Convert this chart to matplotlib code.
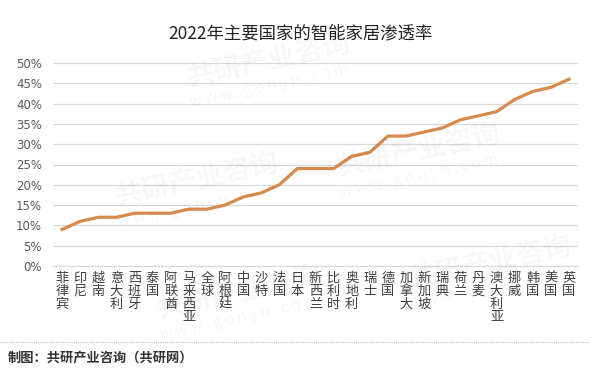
import matplotlib.pyplot as plt
from matplotlib.ticker import PercentFormatter

plt.rcParams['font.family'] = ['Noto Sans CJK SC', 'DejaVu Sans']

countries = ['菲律宾', '印尼', '越南', '意大利', '西班牙', '泰国', '阿联酋', '马来西亚',
             '全球', '阿根廷', '中国', '沙特', '法国', '日本', '新西兰', '比利时',
             '奥地利', '瑞士', '德国', '加拿大', '新加坡', '瑞典', '荷兰', '丹麦',
             '澳大利亚', '挪威', '韩国', '美国', '英国']
penetration = [9, 11, 12, 12, 13, 13, 13, 14, 14, 15, 17, 18, 20, 24, 24, 24,
               27, 28, 32, 32, 33, 34, 36, 37, 38, 41, 43, 44, 46]
y_ticks = [0, 5, 10, 15, 20, 25, 30, 35, 40, 45, 50]

fig = plt.figure(figsize=(5.98, 3.74), dpi=100)
ax = fig.add_axes([53 / 598, 1 - 266 / 374, 525 / 598, 203 / 374])

# faint watermarks
for wx, wy in [(0.45, 0.84), (0.33, 0.52), (0.70, 0.60), (0.40, 0.22), (0.82, 0.30)]:
    fig.text(wx, wy, '共研产业咨询', fontsize=20, fontweight='bold', color='#000000',
             alpha=0.035, rotation=12, ha='center', va='center')
    fig.text(wx, wy - 0.07, 'w w w . g o n y n . c o m', fontsize=11, color='#000000',
             alpha=0.035, rotation=12, ha='center', va='center')

x = list(range(len(countries)))
ax.plot(x, penetration, color='#D68A4C', linewidth=2.3, solid_joinstyle='round', zorder=3)

ax.set_xlim(-0.5, len(countries) - 0.5)
ax.set_ylim(0, 50)
ax.set_yticks(y_ticks)
ax.yaxis.set_major_formatter(PercentFormatter(decimals=0))
ax.grid(axis='y', color='#D9D9D9', linewidth=0.9)
ax.set_axisbelow(True)
for s in ['top', 'right', 'left']:
    ax.spines[s].set_visible(False)
ax.spines['bottom'].set_color('#D9D9D9')
ax.tick_params(axis='y', length=0, pad=8, labelsize=8.5, labelcolor='#595959')
for lab in ax.get_yticklabels():
    lab.set_family('DejaVu Sans')

ax.set_xticks(x)
ax.set_xticklabels(['\n'.join(c) for c in countries], fontsize=9.5, color='#404040',
                   linespacing=1.0, va='top')
ax.tick_params(axis='x', length=0, pad=4)

fig.text(0.502, 1 - 33 / 374, '2022年主要国家的智能家居渗透率', fontsize=12.5,
         ha='center', va='center', color='#222222')

fig.add_artist(plt.Line2D([0.0, 0.985], [1 - 342 / 374, 1 - 342 / 374],
                          color='#BBBBBB', linewidth=0.8, linestyle=(0, (1, 1))))
fig.text(8 / 598, 1 - 357 / 374, '制图：共研产业咨询（共研网）', fontsize=9.5,
         fontweight='bold', ha='left', va='center', color='#333333')

fig.savefig('out.png', dpi=100)
